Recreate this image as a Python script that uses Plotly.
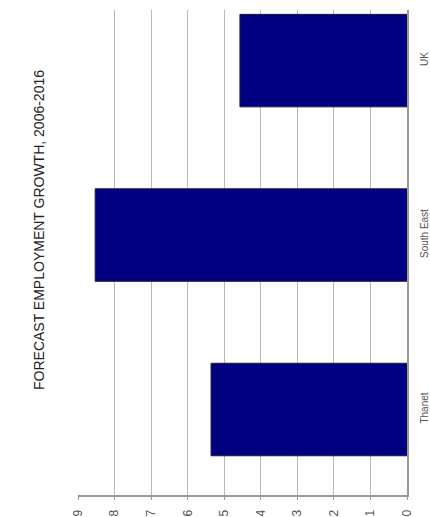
import plotly.graph_objects as go

# Forecast employment growth 2006-2016 by area (percent)
areas = ["Thanet", "South East", "UK"]
growth_pct = [5.36, 8.53, 4.57]
tick_values = list(range(0, 10))
title_text = "FORECAST EMPLOYMENT GROWTH, 2006-2016"

W, H = 430, 517
L, R, T, B = 78, 23, 10, 22

fig = go.Figure(
    go.Bar(
        y=areas,
        x=growth_pct,
        orientation="h",
        width=0.53,
        marker=dict(color="#000080", line=dict(color="#1a1a40", width=1)),
    )
)

fig.update_layout(
    width=W,
    height=H,
    margin=dict(l=L, r=R, t=T, b=B, autoexpand=False),
    paper_bgcolor="white",
    plot_bgcolor="white",
    showlegend=False,
    font=dict(family="Liberation Sans, Arial, sans-serif", color="#333"),
    annotations=[
        dict(
            text=title_text,
            xref="paper",
            yref="paper",
            x=(39 - L) / (W - L - R),
            y=(H - B - 230) / (H - T - B),
            xanchor="center",
            yanchor="middle",
            textangle=-90,
            showarrow=False,
            font=dict(size=14, color="#222"),
        )
    ],
)

fig.update_xaxes(
    range=[9, 0],
    tickvals=tick_values,
    ticksuffix="%",
    tickangle=-90,
    tickfont=dict(size=12, color="#555"),
    showgrid=True,
    gridcolor="#b8b8b8",
    gridwidth=1,
    zeroline=False,
    showline=True,
    linecolor="#999",
    linewidth=2,
    ticks="outside",
    ticklen=3,
    tickcolor="#999",
    ticklabelstandoff=5,
    automargin=False,
)

fig.update_yaxes(
    side="right",
    range=[-0.49, 2.29],
    tickangle=-90,
    tickfont=dict(size=10, color="#555"),
    showgrid=False,
    showline=True,
    linecolor="#999",
    linewidth=2,
    ticks="",
    ticklabelstandoff=7,
    automargin=False,
)

fig.write_html("out.html")
